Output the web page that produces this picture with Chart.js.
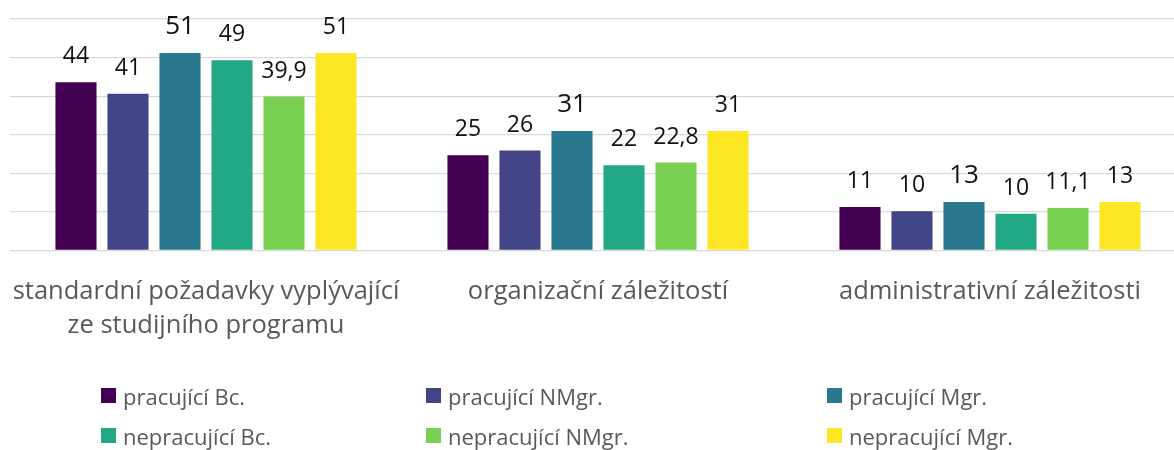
<!DOCTYPE html>
<html>
<head>
<meta charset="utf-8">
<script src="https://cdn.jsdelivr.net/npm/chart.js@4"></script>
<style>
  html, body { margin: 0; padding: 0; background: #fff; overflow: hidden; }
  #wrap { position: relative; width: 1190px; height: 450px; }
  .legend-item {
    position: absolute;
    font-family: "Open Sans", sans-serif;
    font-size: 22px;
    color: #595959;
    white-space: nowrap;
    line-height: 1;
    height: 15px;
  }
  .legend-item span.box {
    position: absolute;
    width: 15px;
    height: 15px;
    left: 0;
    top: 0;
  }
  .legend-item span.txt {
    position: absolute;
    left: 22px;
    bottom: -4px;
  }
</style>
</head>
<body>
<div id="wrap">
  <canvas id="groupChart" width="1190" height="450"></canvas>
  <div id="legend"></div>
</div>
<script>
// Categories (x axis), multi-line labels as arrays
const categories = [
    ['standardní požadavky vyplývající', 'ze studijního programu'],
    'organizační záležitostí',
    'administrativní záležitosti'
];

// Series names and colours
const seriesNames = [
    'pracující Bc.',
    'pracující NMgr.',
    'pracující Mgr.',
    'nepracující Bc.',
    'nepracující NMgr.',
    'nepracující Mgr.'
];
const seriesColors = ['#440154', '#414487', '#2A788E', '#22A884', '#7AD151', '#FDE725'];

// Bar values (one array per series)
const pracujiciBc = [43.6, 24.7, 11.3];
const pracujiciNMgr = [40.6, 25.9, 10.2];
const pracujiciMgr = [51.2, 31.0, 12.6];
const nepracujiciBc = [49.3, 22.1, 9.5];
const nepracujiciNMgr = [39.9, 22.8, 11.0];
const nepracujiciMgr = [51.2, 31.0, 12.6];

// Data labels as printed above the bars
const labelsPracujiciBc = ['44', '25', '11'];
const labelsPracujiciNMgr = ['41', '26', '10'];
const labelsPracujiciMgr = ['51', '31', '13'];
const labelsNepracujiciBc = ['49', '22', '10'];
const labelsNepracujiciNMgr = ['39,9', '22,8', '11,1'];
const labelsNepracujiciMgr = ['51', '31', '13'];

const seriesValues = [pracujiciBc, pracujiciNMgr, pracujiciMgr, nepracujiciBc, nepracujiciNMgr, nepracujiciMgr];
const seriesLabels = [labelsPracujiciBc, labelsPracujiciNMgr, labelsPracujiciMgr,
    labelsNepracujiciBc, labelsNepracujiciNMgr, labelsNepracujiciMgr];

// Value axis ticks
const yMin = 0;
const yMax = 60;
const yStep = 10;

/**
 * Draws the value labels above every bar.
 */
const barLabelPlugin = {
    id: 'barLabels',
    afterDatasetsDraw(chart) {
        const ctx = chart.ctx;
        ctx.save();
        ctx.textAlign = 'center';
        ctx.textBaseline = 'alphabetic';
        ctx.fillStyle = '#111111';
        chart.data.datasets.forEach((ds, i) => {
            const meta = chart.getDatasetMeta(i);
            // the "pracující Mgr." labels are printed a bit bigger
            ctx.font = (i === 2 ? '26px' : '23px') + ' "Open Sans", sans-serif';
            meta.data.forEach((bar, j) => {
                ctx.fillText(ds.valueLabels[j], bar.x, bar.y - 19);
            });
        });
        ctx.restore();
    }
};

const datasets = seriesNames.map((name, i) => ({
    label: name,
    data: seriesValues[i],
    valueLabels: seriesLabels[i],
    backgroundColor: seriesColors[i],
    borderWidth: 0,
    categoryPercentage: 0.796,
    barPercentage: 0.79
}));

const ctx = document.getElementById('groupChart').getContext('2d');
new Chart(ctx, {
    type: 'bar',
    data: { labels: categories, datasets: datasets },
    options: {
        responsive: false,
        animation: false,
        layout: { padding: { left: 10, right: 4, top: 19, bottom: 0 } },
        plugins: {
            legend: { display: false }, // legend is built in HTML below
            tooltip: { enabled: false }
        },
        scales: {
            x: {
                grid: { display: false },
                border: { display: false },
                ticks: {
                    color: '#595959',
                    padding: 16,
                    maxRotation: 0,
                    autoSkip: false,
                    font: { family: '"Open Sans", sans-serif', size: 25.5, lineHeight: 1.333 }
                },
                afterFit: (scale) => {
                    scale.height = 199.5;
                    // don't let the wide first label push the plot area
                    scale.paddingLeft = 0;
                    scale.paddingRight = 0;
                }
            },
            y: {
                min: yMin,
                max: yMax,
                ticks: { display: false, stepSize: yStep },
                grid: { color: '#d9d9d9', lineWidth: 1.3, drawTicks: false },
                border: { display: false },
                afterFit: (scale) => { scale.width = 0; }
            }
        }
    },
    plugins: [barLabelPlugin]
});

// HTML legend, three columns by two rows like the original
const legendCols = [101, 426, 827];
const legendRows = [388, 428];
const legendEl = document.getElementById('legend');
seriesNames.forEach((name, i) => {
    const item = document.createElement('div');
    item.className = 'legend-item';
    item.style.left = legendCols[i % 3] + 'px';
    item.style.top = legendRows[Math.floor(i / 3)] + 'px';
    item.innerHTML = '<span class="box" style="background:' + seriesColors[i] + '"></span>' +
        '<span class="txt">' + name + '</span>';
    legendEl.appendChild(item);
});
</script>
</body>
</html>
